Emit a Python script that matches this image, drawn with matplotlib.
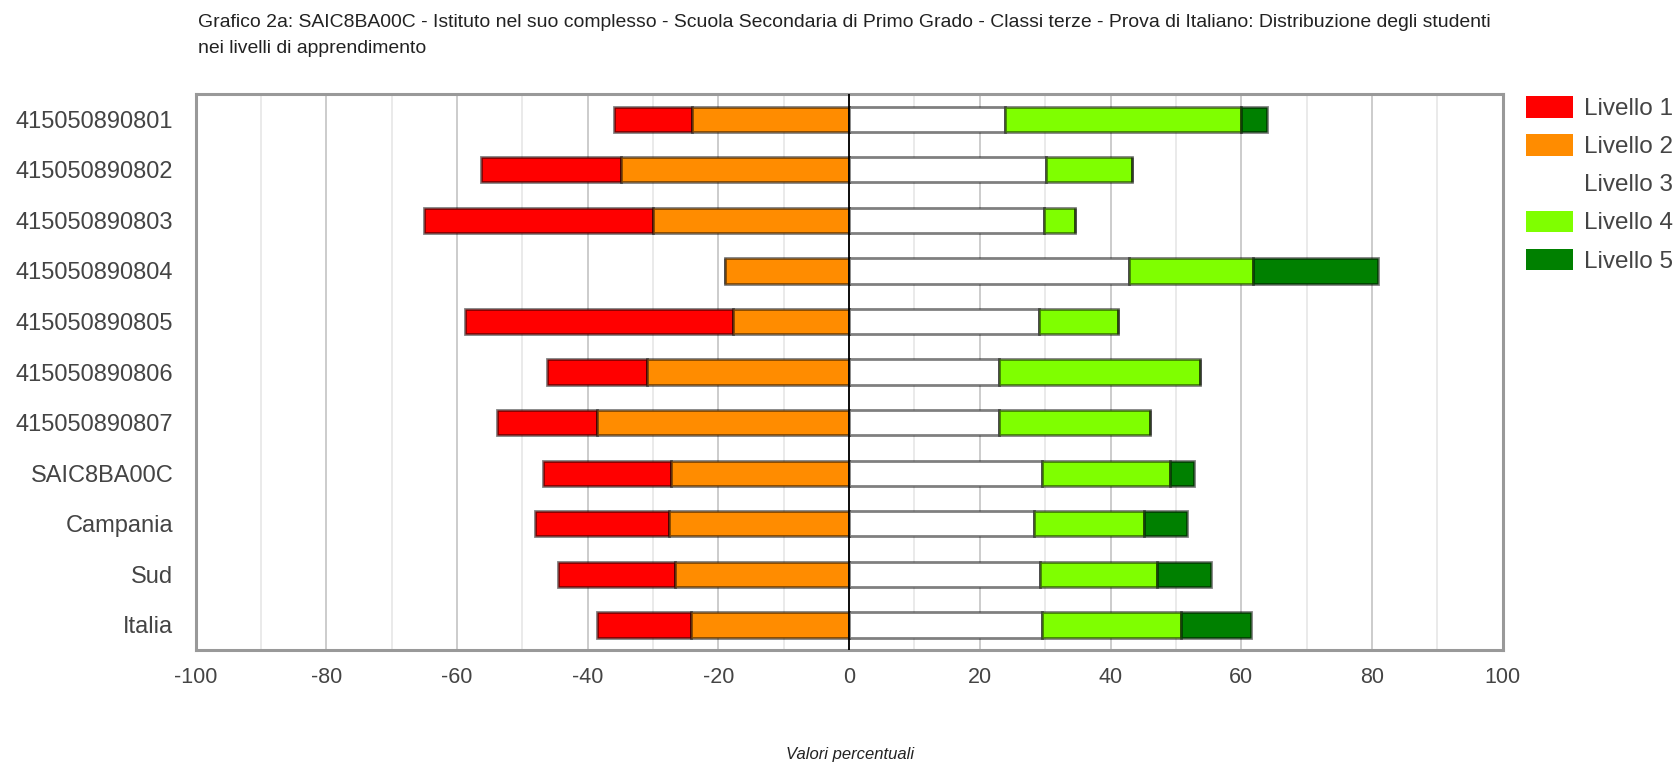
import matplotlib
matplotlib.use("Agg")
import matplotlib.pyplot as plt
from matplotlib.patches import Patch
import numpy as np

categories = ['415050890801', '415050890802', '415050890803', '415050890804',
              '415050890805', '415050890806', '415050890807', 'SAIC8BA00C',
              'Campania', 'Sud', 'Italia']
livello1 = [11.9, 21.4, 35.0, 0.0, 41.1, 15.3, 15.3, 19.6, 20.4, 18.0, 14.4]
livello2 = [24.1, 34.9, 30.0, 19.0, 17.7, 30.9, 38.6, 27.2, 27.6, 26.6, 24.2]
livello3 = [23.9, 30.1, 29.8, 42.8, 29.1, 23.0, 23.0, 29.5, 28.3, 29.2, 29.5]
livello4 = [36.1, 13.2, 4.8, 19.0, 12.0, 30.7, 23.0, 19.6, 16.8, 17.9, 21.3]
livello5 = [3.9, 0.0, 0.0, 19.1, 0.0, 0.0, 0.0, 3.7, 6.6, 8.2, 10.7]
level_names = ['Livello 1', 'Livello 2', 'Livello 3', 'Livello 4', 'Livello 5']
level_colors = ['#ff0000', '#ff8c00', '#ffffff', '#7fff00', '#008000']
xticks = list(range(-100, 101, 20))
title_lines = ["Grafico 2a: SAIC8BA00C - Istituto nel suo complesso - Scuola Secondaria di Primo Grado - Classi terze - Prova di Italiano: Distribuzione degli studenti",
               "nei livelli di apprendimento"]
xlabel = "Valori percentuali"

plt.rcParams['font.family'] = ['Liberation Sans', 'DejaVu Sans']

fig = plt.figure(figsize=(16.77, 7.64), dpi=100)
ax = fig.add_axes([0.1167, 0.149, 0.7793, 0.728])

y = np.arange(len(categories))
l1 = np.array(livello1); l2 = np.array(livello2); l3 = np.array(livello3)
l4 = np.array(livello4); l5 = np.array(livello5)

edge = (0, 0, 0, 0.5)
h = 0.5
lw = 2.0
ax.barh(y, l1, left=-(l1 + l2), height=h, color=level_colors[0], edgecolor=edge, linewidth=lw, zorder=3)
ax.barh(y, l2, left=-l2, height=h, color=level_colors[1], edgecolor=edge, linewidth=lw, zorder=3)
ax.barh(y, l3, left=0, height=h, color=level_colors[2], edgecolor=edge, linewidth=lw, zorder=3)
ax.barh(y, l4, left=l3, height=h, color=level_colors[3], edgecolor=edge, linewidth=lw, zorder=3)
ax.barh(y, l5, left=l3 + l4, height=h, color=level_colors[4], edgecolor=edge, linewidth=lw, zorder=3)

ax.axvline(0, color='black', linewidth=1.3, zorder=4)

ax.set_xlim(-100, 100)
ax.set_ylim(len(categories) - 0.5, -0.5)
ax.set_xticks(xticks)
ax.set_xticklabels([str(t) for t in xticks])
ax.set_xticks(list(range(-90, 100, 20)), minor=True)
ax.set_yticks(y)
ax.set_yticklabels(categories)
ax.grid(True, axis='x', which='major', color='#c8c8c8', linewidth=1.3, zorder=0)
ax.grid(True, axis='x', which='minor', color='#e8e8e8', linewidth=1.3, zorder=0)
ax.set_axisbelow(True)
ax.tick_params(axis='both', which='both', length=0)
ax.tick_params(axis='x', pad=12, labelsize=15.5, labelcolor='#444444')
ax.tick_params(axis='y', pad=16, labelsize=17, labelcolor='#444444')
for s in ax.spines.values():
    s.set_color('#999999')
    s.set_linewidth(2.2)

handles = [Patch(facecolor=c, edgecolor='none', label=n) for c, n in zip(level_colors, level_names)]
leg = fig.legend(handles=handles, loc='upper left', bbox_to_anchor=(0.91, 0.874),
                 frameon=False, fontsize=17.5, handlelength=1.95, handleheight=0.97,
                 labelspacing=0.58, handletextpad=0.45, borderpad=0, borderaxespad=0)
for t in leg.get_texts():
    t.set_color('#444444')

fig.text(0.118, 0.971, title_lines[0], fontsize=13.95, color='#222222', va='center', ha='left')
fig.text(0.118, 0.937, title_lines[1], fontsize=13.95, color='#222222', va='center', ha='left')
fig.text(0.507, 0.012, xlabel, fontsize=12, style='italic', color='#222222', va='center', ha='center')

fig.savefig('out.png', dpi=100)
